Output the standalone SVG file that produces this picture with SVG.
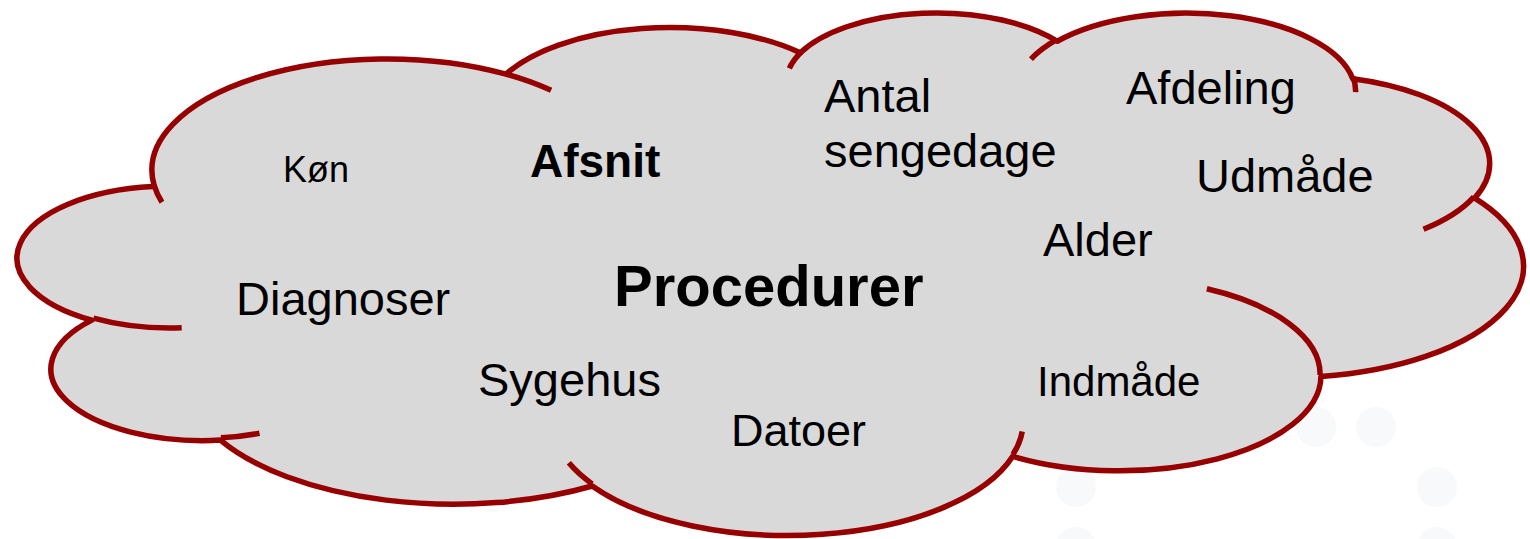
<svg xmlns="http://www.w3.org/2000/svg" width="1530" height="539" viewBox="0 0 1530 539">
  <style>
    .dot { fill: #f7f9fa; }
    .cloud-fill { fill: #d9d9d9; stroke: #960000; stroke-width: 5.5; stroke-linejoin: round; }
    .cloud-stub { fill: none; stroke: #960000; stroke-width: 5.5; }
    .t { font-family: "Liberation Sans", Arial, sans-serif; fill: #000000; }
    .b { font-weight: bold; }
  </style>
  <rect x="0" y="0" width="1530" height="539" fill="#ffffff"/>
  <g id="background-dots">
    <circle class="dot" cx="1316" cy="427" r="20"/>
    <circle class="dot" cx="1376" cy="427" r="20"/>
    <circle class="dot" cx="1076" cy="487" r="20"/>
    <circle class="dot" cx="1437" cy="487" r="20"/>
    <circle class="dot" cx="1076" cy="547" r="20"/>
    <circle class="dot" cx="1437" cy="547" r="20"/>
  </g>
  <g id="cloud" transform="translate(18.24 11.25) scale(0.034827 0.012091)">
    <path class="cloud-fill" vector-effect="non-scaling-stroke" d="M3900,14370 A6753,9190 0 0 1 14005,5202 A5333,7267 0 0 1 22456,3432 A4365,5945 0 0 1 29833,2481 A4857,6595 0 0 1 38318,5576 A5333,7273 0 0 1 41819,15460 A6775,9220 0 0 1 37405,30203 A5785,7867 0 0 1 28556,36813 A6752,9215 0 0 1 16481,39264 A7720,10543 0 0 1 5805,35470 A4360,5918 0 0 1 2114,25548 A4345,5945 0 0 1 3864,14504 Z"/>
    <path class="cloud-stub" vector-effect="non-scaling-stroke" d="M4693,26177 A4345,5945 0 0 1 2160,25380 M6928,34899 A4360,5918 0 0 1 5820,35281 M16478,39090 A6752,9215 0 0 1 15810,37350 M28827,34751 A6752,9215 0 0 1 28560,36660 M34129,22954 A5785,7867 0 0 1 37381,30090 M41798,15354 A5333,7273 0 0 1 40350,18030 M38324,5426 A4857,6595 0 0 1 38401,6690 M29078,3952 A4857,6595 0 0 1 29820,2340 M22141,4720 A4365,5945 0 0 1 22500,3330 M14000,5192 A6753,9190 0 0 1 15300,6540 M4127,15789 A6753,9190 0 0 1 3900,14371"/>
  </g>
  <g id="word-kon"><text class="t" x="283" y="182" font-size="36">Køn</text></g>
  <g id="word-afsnit"><text class="t b" x="530" y="177" font-size="46">Afsnit</text></g>
  <g id="word-antal-sengedage">
    <text class="t" x="824" y="112" font-size="47">Antal</text>
    <text class="t" x="824" y="167" font-size="47">sengedage</text>
  </g>
  <g id="word-afdeling"><text class="t" x="1126" y="104" font-size="47">Afdeling</text></g>
  <g id="word-udmaade"><text class="t" x="1196" y="192" font-size="47">Udmåde</text></g>
  <g id="word-alder"><text class="t" x="1043" y="256" font-size="47">Alder</text></g>
  <g id="word-procedurer"><text class="t b" x="614" y="306" font-size="58">Procedurer</text></g>
  <g id="word-diagnoser"><text class="t" x="236" y="315" font-size="47">Diagnoser</text></g>
  <g id="word-sygehus"><text class="t" x="478" y="396" font-size="47">Sygehus</text></g>
  <g id="word-datoer"><text class="t" x="731" y="446" font-size="45">Datoer</text></g>
  <g id="word-indmaade"><text class="t" x="1037" y="396" font-size="42">Indmåde</text></g>
</svg>
